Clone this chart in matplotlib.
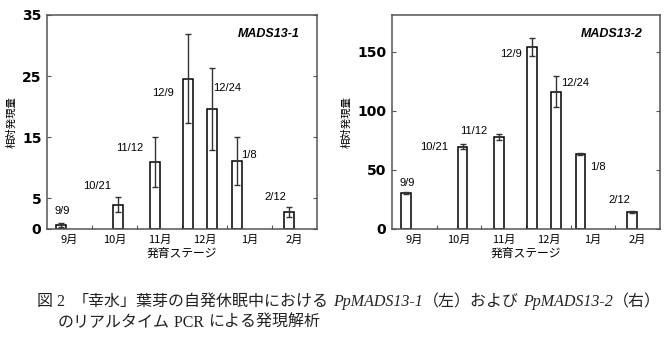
#Figure 2: relative expression of PpMADS13-1 / PpMADS13-2 during endodormancy
import matplotlib
matplotlib.use("Agg")
import matplotlib.pyplot as plt

CJK = ["Noto Sans CJK JP", "DejaVu Sans"]

# sampling dates and their place on the month axis (Sep = 0..1, Oct = 1..2, ...)
dates = ["9/9", "10/21", "11/12", "12/9", "12/24", "1/8", "2/12"]
datePos = [0.32, 1.58, 2.40, 3.13, 3.67, 4.22, 5.37]
months = ["9月", "10月", "11月", "12月", "1月", "2月"]

mads1 = [0.6, 4.0, 11.0, 24.6, 19.7, 11.1, 2.8]
mads1Err = [0.3, 1.2, 4.1, 7.3, 6.7, 3.9, 0.8]
mads2 = [30.5, 69.5, 78.0, 153.6, 116.0, 63.3, 14.4]
mads2Err = [1.0, 2.0, 2.5, 7.7, 13.0, 1.0, 0.7]

# where the date labels sit (month units, data units)
labelPos1 = [(0.33, 2.9), (1.11, 7.0), (1.84, 13.2), (2.58, 22.2),
             (4.0, 23.1), (4.49, 12.1), (5.07, 5.2)]
labelPos2 = [(0.35, 38.7), (0.94, 69.2), (1.82, 83.0), (2.66, 148.3),
             (4.11, 123.5), (4.6, 52.8), (5.09, 24.6)]

W, H = 665, 340
frameColor = "#555555"


def drawPanel(ax, values, errors, labelPos, yticks, ymax, title):
    ax.bar(datePos, values, width=0.22, color="white", edgecolor="black",
           linewidth=1.1, zorder=2)
    ax.errorbar(datePos, values, yerr=errors, fmt="none", ecolor="#333333",
                elinewidth=1.0, capsize=2.2, capthick=1.0, zorder=3)
    for txt, (x, y) in zip(dates, labelPos):
        ax.text(x, y, txt, ha="center", va="center", fontsize=8,
                family="Liberation Sans")
    ax.text(0.82, 0.91, title, transform=ax.transAxes, ha="center",
            va="center", fontsize=9, fontweight="bold", fontstyle="italic",
            family="Liberation Sans")

    ax.set_xlim(0, 6)
    ax.set_ylim(0, ymax)
    # month boundaries as small inner ticks, month names in between
    ax.set_xticks([1, 2, 3, 4, 5])
    ax.set_xticklabels([])
    ax.set_xticks([m + 0.5 for m in range(6)], minor=True)
    ax.set_xticklabels(months, minor=True, family=CJK, fontsize=8)
    ax.tick_params(axis="x", which="major", direction="in", length=3,
                   color=frameColor)
    ax.tick_params(axis="x", which="minor", length=0, pad=4)
    ax.set_yticks(yticks)
    ax.set_yticklabels([str(t) for t in yticks], fontsize=10,
                       fontweight="bold", family="DejaVu Sans")
    ax.tick_params(axis="y", direction="in", length=3, right=True,
                   color=frameColor, pad=4)
    for sp in ax.spines.values():
        sp.set_color(frameColor)
        sp.set_linewidth(1.1)
    ax.set_xlabel("発育ステージ", family=CJK, fontsize=8.5, labelpad=1.5)
    ax.set_ylabel("相対発現量", family=CJK, fontsize=7.5, labelpad=4)


fig = plt.figure(figsize=(W / 100, H / 100), dpi=100)
ax1 = fig.add_axes([47 / W, 1 - 229 / H, 270 / W, 214 / H])
ax2 = fig.add_axes([392 / W, 1 - 229 / H, 268 / W, 214 / H])
drawPanel(ax1, mads1, mads1Err, labelPos1, [0, 5, 15, 25, 35], 35, "MADS13-1")
drawPanel(ax2, mads2, mads2Err, labelPos2, [0, 50, 100, 150], 181, "MADS13-2")

# caption: pieces in different fonts chained one after another
serif = "Liberation Serif"
capSize = 11.5
line1 = [("図", dict(family=CJK)),
         (" 2  ", dict(family=serif)),
         ("「幸水」葉芽の自発休眠中における", dict(family=CJK)),
         (" ", dict(family=serif)),
         ("PpMADS13-1", dict(family=serif, fontstyle="italic")),
         ("（左）および", dict(family=CJK)),
         (" ", dict(family=serif)),
         ("PpMADS13-2", dict(family=serif, fontstyle="italic")),
         ("（右）", dict(family=CJK))]
line2 = [("のリアルタイム", dict(family=CJK)),
         (" PCR ", dict(family=serif)),
         ("による発現解析", dict(family=CJK))]

renderer = fig.canvas.get_renderer()


def putLine(x, y, pieces):
    for s, kw in pieces:
        t = fig.text(x / W, 1 - y / H, s, fontsize=capSize, va="baseline",
                     ha="left", color="#222222", **kw)
        x += t.get_window_extent(renderer).width


putLine(37, 306, line1)
putLine(58, 327, line2)

plt.savefig("out.png", dpi=100)
plt.close()
